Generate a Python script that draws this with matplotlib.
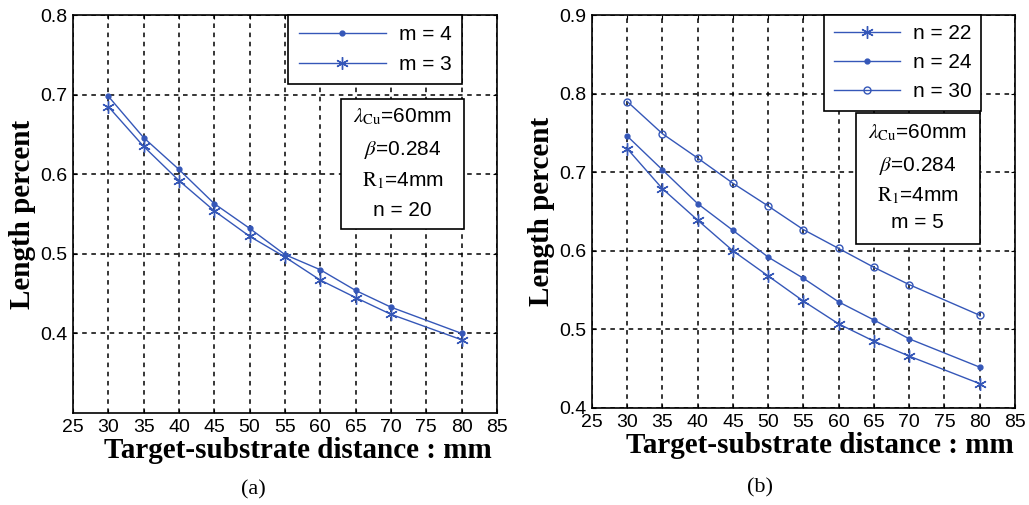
import matplotlib.pyplot as plt
from matplotlib.patches import Rectangle

# shared x positions (mm)
dist = [30, 35, 40, 45, 50, 55, 60, 65, 70, 80]

# panel (a): n = 20
m4 = [0.698, 0.646, 0.606, 0.563, 0.532, 0.499, 0.480, 0.454, 0.433, 0.400]
m3 = [0.685, 0.635, 0.592, 0.554, 0.522, 0.496, 0.467, 0.445, 0.424, 0.392]

# panel (b): m = 5
n22 = [0.730, 0.679, 0.639, 0.600, 0.568, 0.536, 0.507, 0.485, 0.466, 0.431]
n24 = [0.746, 0.703, 0.660, 0.626, 0.592, 0.565, 0.535, 0.512, 0.488, 0.452]
n30 = [0.790, 0.749, 0.718, 0.686, 0.657, 0.627, 0.603, 0.579, 0.557, 0.518]

xticks = [25, 30, 35, 40, 45, 50, 55, 60, 65, 70, 75, 80, 85]

blue = '#3557b8'
star = (6, 2, 0)

plt.rcParams['font.family'] = 'Liberation Sans'
plt.rcParams['mathtext.fontset'] = 'stix'

fig = plt.figure(figsize=(10.29, 5.05), dpi=100)
axa = fig.add_axes([0.0709, 0.1822, 0.412, 0.788])
axb = fig.add_axes([0.5753, 0.1921, 0.411, 0.778])


def style(ax, ylim, yticks, xlab_x, xlab_y):
    ax.set_xlim(25, 85)
    ax.set_ylim(*ylim)
    ax.set_xticks(xticks)
    ax.set_yticks(yticks)
    ax.set_yticklabels([f'{v:.1f}' for v in yticks])
    ax.tick_params(direction='in', top=True, right=True, labelsize=14,
                   length=3, pad=4)
    ax.grid(True, color='black', linestyle=(0, (3, 3)), linewidth=1.1)
    for sp in ax.spines.values():
        sp.set_linewidth(1.2)
    ax.set_xlabel('Target-substrate distance : mm', family='Liberation Serif',
                  fontweight='bold', fontsize=21)
    ax.xaxis.set_label_coords(xlab_x, xlab_y)
    ax.set_ylabel('Length percent', family='Liberation Serif',
                  fontweight='bold', fontsize=21, labelpad=3)


def infobox(ax, x0, y0, x1, y1, lines, ys, xc):
    ax.add_patch(Rectangle((x0, y0), x1 - x0, y1 - y0, transform=ax.transAxes,
                           facecolor='white', edgecolor='black', lw=1.2, zorder=5))
    for s, y in zip(lines, ys):
        ax.text(xc, y, s, transform=ax.transAxes, ha='center', va='center',
                fontsize=15, zorder=6)


# ---- (a)
style(axa, (0.3, 0.8), [0.4, 0.5, 0.6, 0.7, 0.8], 0.53, -0.06)
axa.plot(dist, m4, color=blue, lw=1, marker='.', ms=7, label='m = 4')
axa.plot(dist, m3, color=blue, lw=1, marker=star, ms=9, mew=1, label='m = 3')
la = axa.legend(loc='upper right', bbox_to_anchor=(0.917, 1.0), fontsize=15,
                handlelength=4.2, labelspacing=0.5, borderpad=0.5,
                handletextpad=0.6, fancybox=False, framealpha=1,
                edgecolor='black', borderaxespad=0)
la.get_frame().set_linewidth(1.2)
infobox(axa, 0.632, 0.462, 0.922, 0.789,
        [r'$\lambda_{\mathrm{Cu}}$=60mm', r'$\beta$=0.284',
         r'$\mathrm{R}_1$=4mm', 'n = 20'],
        [0.745, 0.662, 0.585, 0.51], 0.778)

# ---- (b)
style(axb, (0.4, 0.9), [0.4, 0.5, 0.6, 0.7, 0.8, 0.9], 0.54, -0.06)
axb.plot(dist, n22, color=blue, lw=1, marker=star, ms=9, mew=1, label='n = 22')
axb.plot(dist, n24, color=blue, lw=1, marker='.', ms=7, label='n = 24')
axb.plot(dist, n30, color=blue, lw=1, marker='o', ms=5, mfc='none', mew=1,
         label='n = 30')
lb = axb.legend(loc='upper right', bbox_to_anchor=(0.920, 1.0), fontsize=15,
                handlelength=3.2, labelspacing=0.48, borderpad=0.45,
                handletextpad=0.6, fancybox=False, framealpha=1,
                edgecolor='black', borderaxespad=0)
lb.get_frame().set_linewidth(1.2)
infobox(axb, 0.624, 0.417, 0.917, 0.750,
        [r'$\lambda_{\mathrm{Cu}}$=60mm', r'$\beta$=0.284',
         r'$\mathrm{R}_1$=4mm', 'm = 5'],
        [0.702, 0.617, 0.540, 0.473], 0.77)

fig.text(253 / 1029, 1 - 490 / 505, '(a)', family='Liberation Serif',
         fontsize=16, ha='center', va='center')
fig.text(760 / 1029, 1 - 488 / 505, '(b)', family='Liberation Serif',
         fontsize=16, ha='center', va='center')

fig.savefig('out.png', dpi=100)
